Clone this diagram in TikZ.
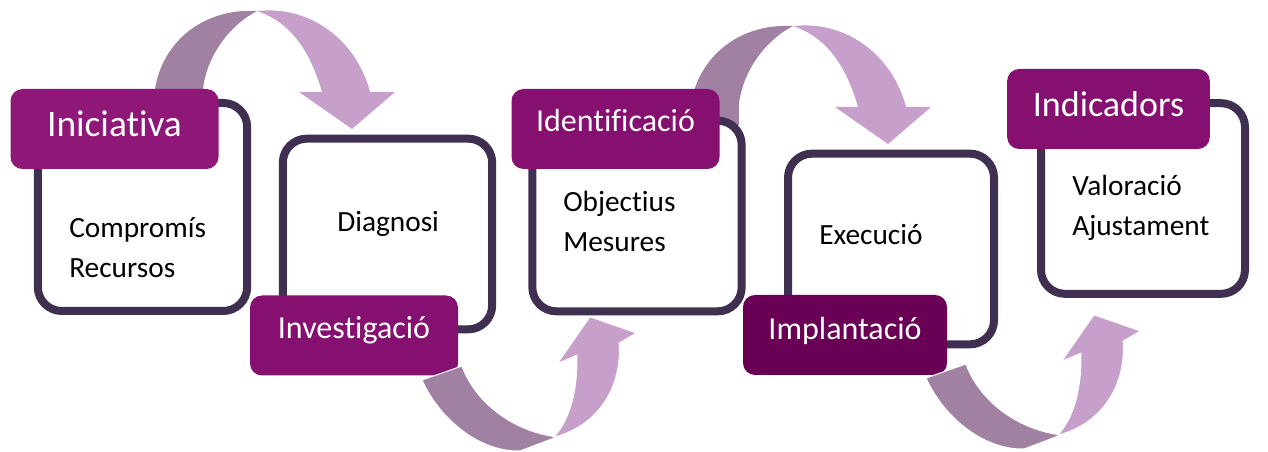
\documentclass[tikz,border=0pt]{standalone}
\usepackage{fontspec}
\setmainfont{Carlito}[Ligatures=NoCommon]
\definecolor{boxline}{HTML}{3F3052}
\definecolor{tagpurple}{HTML}{86106F}
\definecolor{tagbright}{HTML}{8E1778}
\definecolor{tagdark}{HTML}{6A0055}
\definecolor{arrowdark}{HTML}{A081A2}
\definecolor{arrowlight}{HTML}{C6A0CA}
\tikzset{
  stagebox/.style={draw=boxline, line width=6pt, rounded corners=18pt, fill=white,
    minimum width=157pt, minimum height=143pt, inner sep=0pt},
  stagetag/.style={fill=tagpurple, rounded corners=9pt, minimum width=156pt,
    minimum height=60pt, inner sep=0pt, text=white,
    font=\fontsize{24}{28}\selectfont, text height=16pt, text depth=8.5pt},
  stagetext/.style={anchor=base west, align=left, inner sep=0pt,
    font=\fontsize{22}{30.5}\selectfont},
  backpart/.style={fill=arrowdark},
  frontpart/.style={fill=arrowlight}
}
\begin{document}
\begin{tikzpicture}[x=0.75pt, y=-0.75pt]
\useasboundingbox (0,0) rectangle (1268,452);
% arrows over the top
\foreach \dx/\dy in {0/0, 536/15} {
  \begin{scope}[shift={(\dx,\dy)}]
    \fill[backpart] (155,110) -- (155,89) .. controls (163,40) and (205,8) .. (257,11)
      .. controls (230,25) and (207,55) .. (203,89) -- (203,110) -- cycle;
    \fill[frontpart] (257,11) .. controls (315,5) and (358,45) .. (370,92)
      -- (395,92) -- (352,129) -- (299,92) -- (322,92)
      .. controls (310,50) and (290,22) .. (257,11) -- cycle;
  \end{scope}
}
% stages
\node[stagebox, minimum height=156pt] (box1) at (142.5,207) {};
\node[stagebox] (box2) at (387.5,234) {};
\node[stagebox] (box3) at (637,216) {};
\node[stagebox, minimum width=154.5pt] (box4) at (891,249) {};
\node[stagebox, minimum width=153pt] (box5) at (1143,198.5) {};
\node[stagetag, fill=tagbright, font=\fontsize{28}{32}\selectfont, text depth=4pt] (tag1) at (114.5,129) {Iniciativa};
\node[stagetag, text depth=11.5pt] (tag2) at (354,335.5) {Investigació};
\node[stagetag, text depth=11.5pt] (tag3) at (615.5,129) {Identificació};
\node[stagetag, fill=tagdark, minimum width=153pt] (tag4) at (845,335) {Implantació};
\node[stagetag, minimum width=152pt, font=\fontsize{27}{31}\selectfont, text depth=4pt] (tag5) at (1108.5,109) {Indicadors};
\node[stagetext] (text1) at (69,278) {Compromís\\Recursos};
\node[stagetext] (text2) at (337,232) {Diagnosi};
\node[stagetext] (text3) at (563,252) {Objectius\\Mesures};
\node[stagetext] (text4) at (819,245) {Execució};
\node[stagetext] (text5) at (1072,236) {Valoració\\Ajustament};
% arrows underneath
\foreach \dx/\dy in {0/0, 504/-2} {
  \begin{scope}[shift={(\dx,\dy)}]
    \filldraw[backpart, draw=white, line width=0.75pt] (422,380) -- (462,366)
      .. controls (472,395) and (505,430) .. (557,437) -- (520,451)
      .. controls (480,452) and (440,420) .. (422,380) -- cycle;
    \filldraw[frontpart, draw=white, line width=0.5pt] (554,437)
      .. controls (600,425) and (622,385) .. (619,343) -- (636,333) -- (590,317)
      -- (558,363) -- (577,355) .. controls (578,390) and (570,420) .. (554,437) -- cycle;
  \end{scope}
}
\end{tikzpicture}
\end{document}
